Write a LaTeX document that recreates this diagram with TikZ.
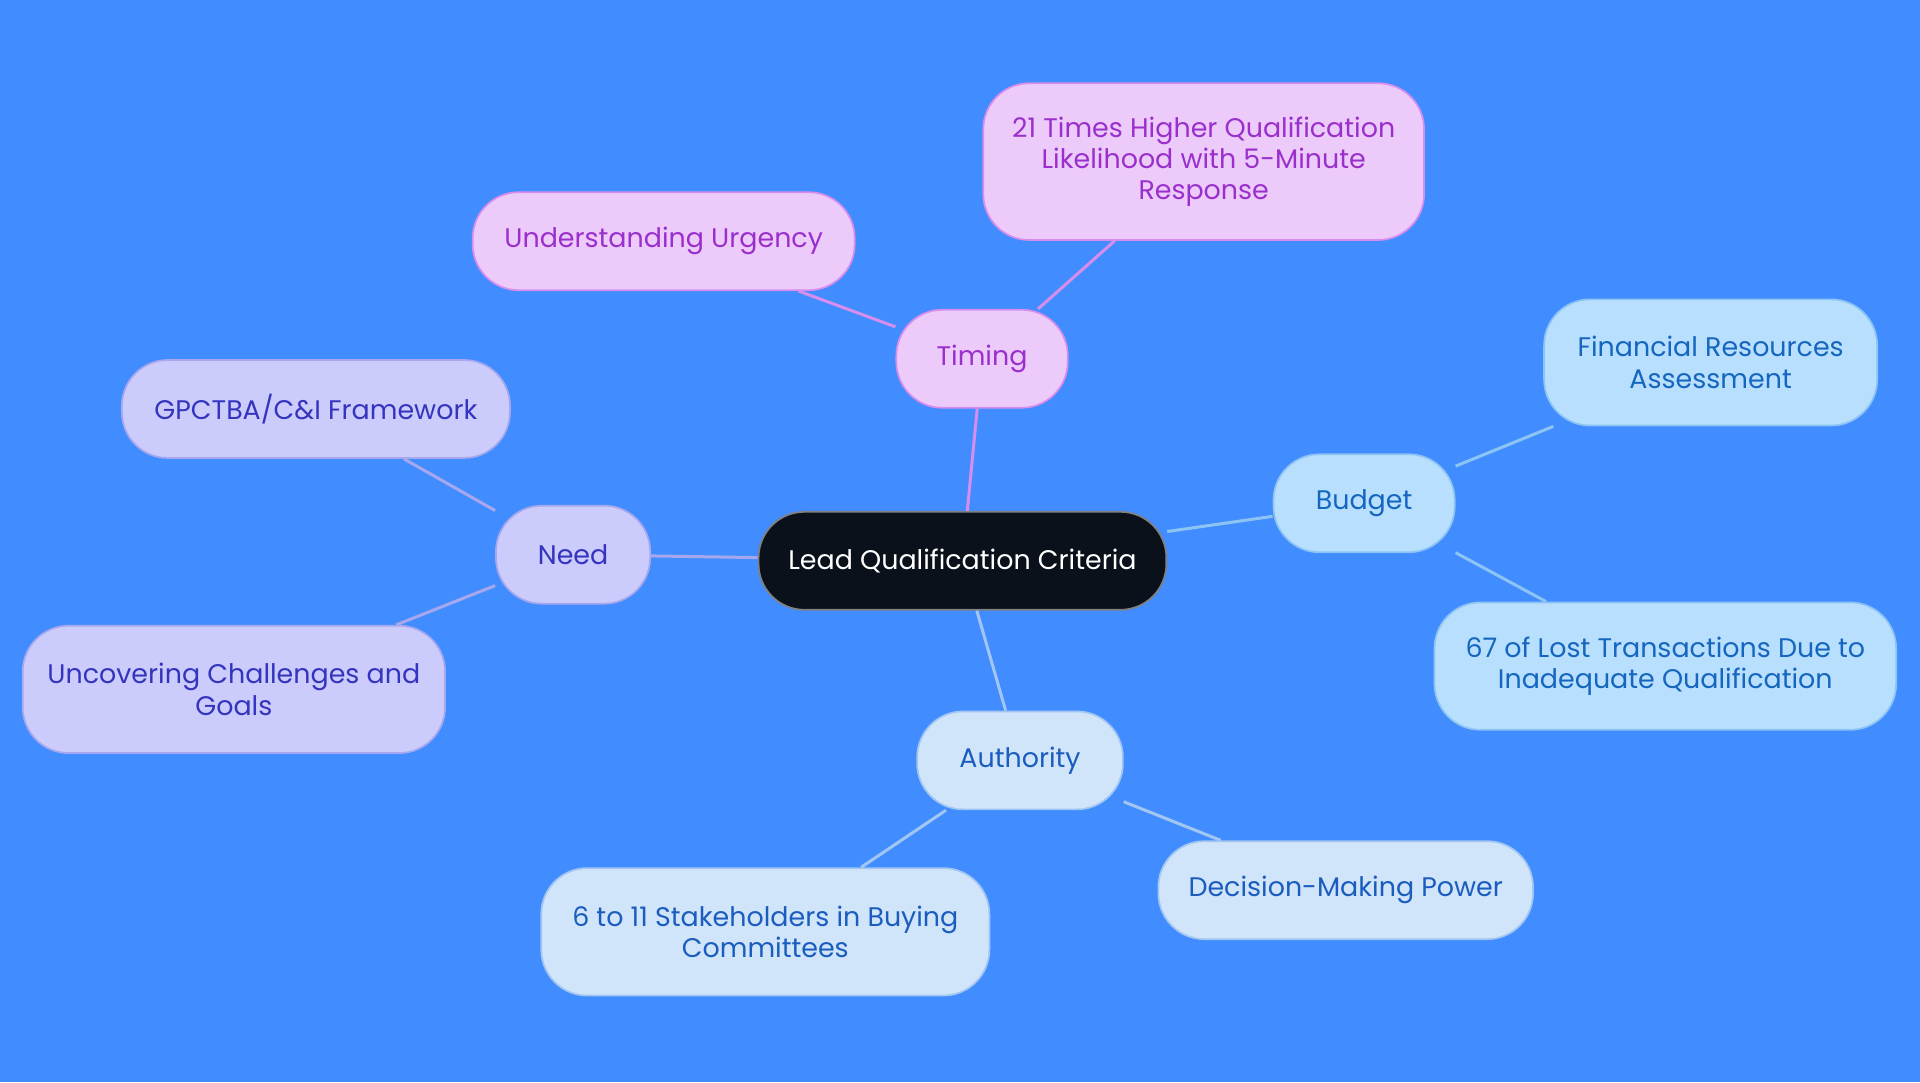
\documentclass[tikz,border=0pt]{standalone}
\usepackage{fontspec}
\setmainfont{Poppins}
\begin{document}
\begin{tikzpicture}[x=0.02cm,y=-0.02cm,
  base/.style={rounded corners=0.75cm,draw,line width=0.8pt,align=center,inner sep=0pt,font=\fontsize{12.5}{14.5}\selectfont},
  tim/.style={base,fill=pinkf,draw=pinkd,text=pinkt},
  bud/.style={base,fill=budf,draw=budd,text=budt},
  aut/.style={base,fill=autf,draw=autd,text=autt},
  ned/.style={base,fill=nedf,draw=nedd,text=nedt},
  el/.style={line width=1.4pt}]
\definecolor{bg}{HTML}{418CFF}
\definecolor{cen}{HTML}{0B111A}
\definecolor{pinkf}{HTML}{ECCBFB}\definecolor{pinkd}{HTML}{D68DEB}\definecolor{pinkt}{HTML}{9A2FCC}
\definecolor{budf}{HTML}{B9DFFE}\definecolor{budd}{HTML}{8CC4F4}\definecolor{budt}{HTML}{1466BE}
\definecolor{autf}{HTML}{D0E4FA}\definecolor{autd}{HTML}{A2C6F2}\definecolor{autt}{HTML}{1A5DBE}
\definecolor{nedf}{HTML}{CBCBFC}\definecolor{nedd}{HTML}{A7A7EE}\definecolor{nedt}{HTML}{3434BE}
\fill[bg] (0,0) rectangle (1568,884);
\useasboundingbox (0,0) rectangle (1568,884);
\node[base,fill=cen,draw=gray,text=white,minimum width=333*0.02cm,minimum height=80*0.02cm] (c) at (786,458) {Lead Qualification Criteria};
\node[tim,minimum width=140*0.02cm,minimum height=80*0.02cm] (t) at (802,293) {Timing};
\node[tim,minimum width=312*0.02cm,minimum height=80*0.02cm] (t1) at (542,197) {Understanding Urgency};
\node[tim,minimum width=360*0.02cm,minimum height=128*0.02cm] (t2) at (983,132) {21 Times Higher Qualification\\Likelihood with 5-Minute\\Response};
\node[bud,minimum width=148*0.02cm,minimum height=80*0.02cm] (b) at (1114,411) {Budget};
\node[bud,minimum width=272*0.02cm,minimum height=103*0.02cm] (b1) at (1397,296) {Financial Resources\\Assessment};
\node[bud,minimum width=377*0.02cm,minimum height=104*0.02cm] (b2) at (1360,544) {67 of Lost Transactions Due to\\Inadequate Qualification};
\node[aut,minimum width=168*0.02cm,minimum height=80*0.02cm] (a) at (833,621) {Authority};
\node[aut,minimum width=366*0.02cm,minimum height=104*0.02cm] (a1) at (625,761) {6 to 11 Stakeholders in Buying\\Committees};
\node[aut,minimum width=306*0.02cm,minimum height=80*0.02cm] (a2) at (1099,727) {Decision-Making Power};
\node[ned,minimum width=126*0.02cm,minimum height=80*0.02cm] (n) at (468,453) {Need};
\node[ned,minimum width=317*0.02cm,minimum height=80*0.02cm] (n1) at (258,334) {GPCTBA/C\&I Framework};
\node[ned,minimum width=345*0.02cm,minimum height=104*0.02cm] (n2) at (191,563) {Uncovering Challenges and\\Goals};
\draw[el,pinkd] (c) -- (t); \draw[el,pinkd] (t) -- (t1); \draw[el,pinkd] (t) -- (t2);
\draw[el,budd] (c) -- (b); \draw[el,budd] (b) -- (b1); \draw[el,budd] (b) -- (b2);
\draw[el,autd] (c) -- (a); \draw[el,autd] (a) -- (a1); \draw[el,autd] (a) -- (a2);
\draw[el,nedd] (c) -- (n); \draw[el,nedd] (n) -- (n1); \draw[el,nedd] (n) -- (n2);
\end{tikzpicture}
\end{document}
